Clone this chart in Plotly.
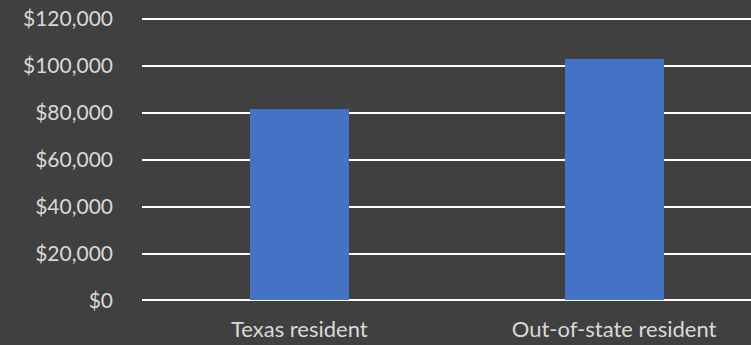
import plotly.graph_objects as go

categories = ["Texas resident", "Out-of-state resident"]
values = [81500, 102800]
y_ticks = [0, 20000, 40000, 60000, 80000, 100000, 120000]
y_tick_labels = ["$0", "$20,000", "$40,000", "$60,000", "$80,000", "$100,000", "$120,000"]

fig = go.Figure(go.Bar(
    x=[0, 1], y=values, width=0.315,
    marker=dict(color="#4472C4", line=dict(width=0)),
    hoverinfo="skip",
))

font = dict(family="Lato, Open Sans, sans-serif", size=21, color="#D9D9D9")
xfont = dict(family="Lato, Open Sans, sans-serif", size=22, color="#D9D9D9")

fig.update_layout(
    width=751, height=345,
    paper_bgcolor="#404040", plot_bgcolor="#404040",
    margin=dict(l=142, r=0, t=17, b=42, pad=0),
    showlegend=False,
    font=font,
    bargap=0,
)
fig.update_xaxes(
    range=[-0.5, 1.435],
    tickvals=[0, 1], ticktext=categories,
    showgrid=False, zeroline=False, showline=False,
    ticks="", ticklabelstandoff=11,
    tickfont=xfont,
)
fig.update_yaxes(
    range=[-1070, 120856],
    tickvals=y_ticks, ticktext=y_tick_labels,
    showgrid=True, gridcolor="#FFFFFF", gridwidth=2,
    zeroline=True, zerolinecolor="#FFFFFF", zerolinewidth=2,
    showline=False, ticks="", ticklabelstandoff=28,
    tickfont=font,
)

fig.write_html(
    "out.html",
    config={"displayModeBar": False},
    post_script="document.body.style.margin='0';document.body.style.background='#404040';",
)
